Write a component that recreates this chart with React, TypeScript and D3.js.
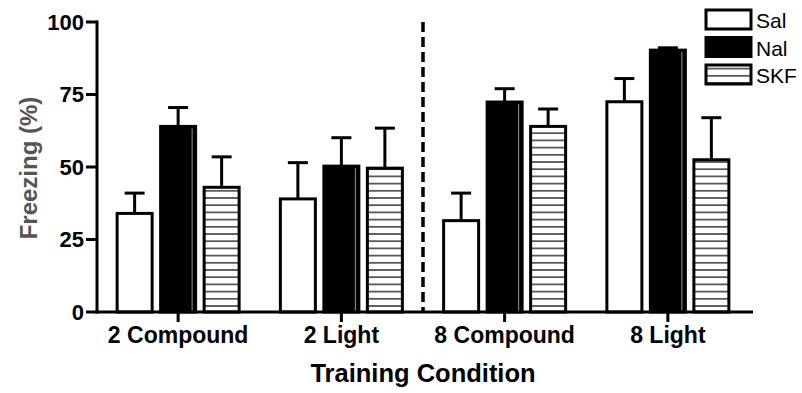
import React from "react";
import * as d3 from "d3";

const categories = ["2 Compound", "2 Light", "8 Compound", "8 Light"];
const series = ["Sal", "Nal", "SKF"];
const salMean = [34, 39, 31.5, 72.5];
const salSem = [7, 12.5, 9.5, 8];
const nalMean = [64, 50.3, 72.4, 90.3];
const nalSem = [6.5, 9.8, 4.6, 0.8];
const skfMean = [43, 49.6, 64, 52.5];
const skfSem = [10.5, 13.8, 6, 14.5];
const yTicks = [0, 25, 50, 75, 100];

const means = [salMean, nalMean, skfMean];
const sems = [salSem, nalSem, skfSem];

const W = 802;
const H = 393;
const font = "'Liberation Sans', Arial, sans-serif";

const fillFor = (s: string) =>
  s === "Sal" ? "#fff" : s === "Nal" ? "#000" : "url(#hstripe)";

export default function App() {
  const y = d3.scaleLinear().domain([0, 100]).range([312, 22]);
  const x0 = d3.scaleBand().domain(categories).range([96.5, 749.5]);
  const bw = x0.bandwidth();
  const x1 = d3
    .scaleBand()
    .domain(series)
    .range([bw / 2 - 65.25, bw / 2 + 65.25]);
  const barW = 35;

  return (
    <svg
      width={W}
      height={H}
      style={{ position: "absolute", left: 0, top: 0, background: "#fff" }}
      fontFamily={font}
    >
      <defs>
        <pattern id="hstripe" width="8" height="7.2" patternUnits="userSpaceOnUse">
          <rect width="8" height="7.2" fill="#fff" />
          <line x1="0" x2="8" y1="3.6" y2="3.6" stroke="#444" strokeWidth="1.6" />
        </pattern>
      </defs>

      {/* bars */}
      {categories.map((c, ci) => (
        <g key={c} transform={`translate(${x0(c)},0)`}>
          {series.map((s, si) => {
            const cx = (x1(s) as number) + x1.bandwidth() / 2;
            const m = means[si][ci];
            const top = y(m + sems[si][ci]);
            return (
              <g key={s}>
                <line x1={cx} x2={cx} y1={y(m)} y2={top} stroke="#000" strokeWidth={3} />
                <line x1={cx - 10} x2={cx + 10} y1={top} y2={top} stroke="#000" strokeWidth={3} />
                <rect
                  x={cx - barW / 2}
                  y={y(m)}
                  width={barW}
                  height={y(0) - y(m)}
                  fill={fillFor(s)}
                  stroke="#000"
                  strokeWidth={3}
                />
                {s === "Nal" && (
                  <line
                    x1={cx + barW / 2 - 3.5}
                    x2={cx + barW / 2 - 3.5}
                    y1={y(m) + 2}
                    y2={y(0)}
                    stroke="#bbb"
                    strokeWidth={0.8}
                  />
                )}
              </g>
            );
          })}
        </g>
      ))}

      {/* dashed separator */}
      <line x1={423} x2={423} y1={y(100)} y2={y(0)} stroke="#000" strokeWidth={3.5} strokeDasharray="10,5" />

      {/* y axis */}
      <line x1={97} x2={97} y1={y(100) - 1.5} y2={y(0) + 1.5} stroke="#000" strokeWidth={3} />
      {yTicks.map((t) => (
        <g key={t}>
          <line x1={86} x2={97} y1={y(t)} y2={y(t)} stroke="#000" strokeWidth={3} />
          <text
            x={84}
            y={y(t)}
            dy="0.36em"
            textAnchor="end"
            fontSize={22}
            fontWeight="bold"
          >
            {t}
          </text>
        </g>
      ))}
      <text
        transform={`translate(37,${(y(0) + y(100)) / 2 + 1}) rotate(-90)`}
        textAnchor="middle"
        fontSize={24}
        fontWeight="bold"
        fill="#555"
      >
        Freezing (%)
      </text>

      {/* x axis */}
      <line x1={95.5} x2={753} y1={y(0)} y2={y(0)} stroke="#000" strokeWidth={3} />
      {categories.map((c) => {
        const cx = (x0(c) as number) + bw / 2;
        return (
          <g key={c}>
            <line x1={cx} x2={cx} y1={y(0)} y2={y(0) + 10} stroke="#000" strokeWidth={3} />
            <text x={cx} y={343} textAnchor="middle" fontSize={23} fontWeight="bold">
              {c}
            </text>
          </g>
        );
      })}
      <text x={423} y={382} textAnchor="middle" fontSize={25.5} fontWeight="bold">
        Training Condition
      </text>

      {/* legend */}
      {series.map((s, i) => (
        <g key={s} transform={`translate(706,${10 + i * 27.5})`}>
          <rect width={45} height={19} fill={fillFor(s)} stroke="#000" strokeWidth={3} />
          <text x={50} y={18} fontSize={21}>
            {s}
          </text>
        </g>
      ))}
    </svg>
  );
}
